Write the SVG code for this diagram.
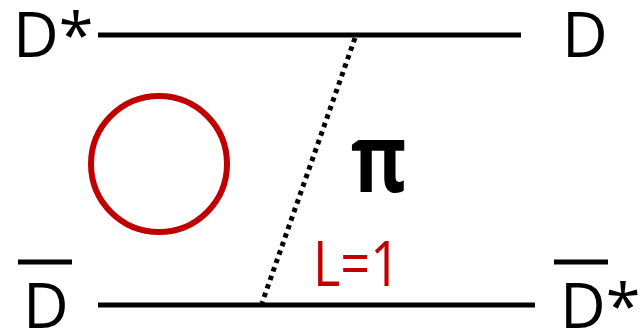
<svg xmlns="http://www.w3.org/2000/svg" width="643" height="334" viewBox="0 0 643 334">
<style>
.t{font-family:"Open Sans","Noto Sans","Liberation Sans",sans-serif;font-size:63px;fill:#000}
.l{stroke:#000;stroke-width:5;fill:none}
</style>
<rect width="643" height="334" fill="#fff"/>
<g id="connectors">
<line class="l" x1="98" y1="35" x2="521" y2="35"/>
<line class="l" x1="98" y1="305" x2="535" y2="305"/>
<line x1="355" y1="38" x2="262" y2="303" stroke="#000" stroke-width="5" stroke-dasharray="4.5 4.5"/>
</g>
<g id="loop"><circle cx="159" cy="164" r="68" fill="none" stroke="#c00000" stroke-width="6"/></g>
<g id="Dstar-top"><text class="t" x="13" y="57">D*</text></g>
<g id="D-top"><text class="t" x="562" y="57">D</text></g>
<g id="pi"><text class="t" transform="translate(351 192) scale(1.2 1.5)" x="0" y="0" font-size="90" font-weight="bold">π</text></g>
<g id="Dbar"><line class="l" x1="18" y1="262" x2="72" y2="262"/><text class="t" x="23" y="328">D</text></g>
<g id="Dstarbar"><line class="l" x1="554" y1="262" x2="608" y2="262"/><text class="t" x="560" y="328">D*</text></g>
<g id="L"><text class="t" x="313" y="286" font-size="55" textLength="87" lengthAdjust="spacingAndGlyphs" style="fill:#c00000">L=1</text></g>
</svg>
